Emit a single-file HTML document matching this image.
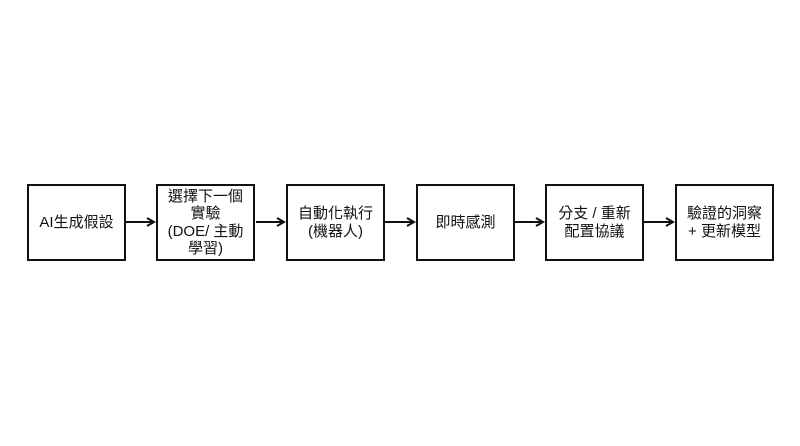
<!DOCTYPE html>
<html><head><meta charset="utf-8"><style>
body{margin:0;width:800px;height:446px;background:#fff;position:relative;overflow:hidden;font-family:"Liberation Sans","Noto Sans CJK TC",sans-serif;}
.b{position:absolute;top:184px;width:95px;height:73px;border:2px solid #111;display:flex;align-items:center;justify-content:center;text-align:center;font-size:15px;line-height:17.5px;color:#111;}
svg{position:absolute;left:0;top:0}
</style></head><body>
<div class="b" style="left:27px">AI生成假設</div>
<div class="b" style="left:156px">選擇下一個<br>實驗<br>(DOE/ 主動<br>學習)</div>
<div class="b" style="left:286px">自動化執行<br>(機器人)</div>
<div class="b" style="left:416px">即時感測</div>
<div class="b" style="left:545px">分支 / 重新<br>配置協議</div>
<div class="b" style="left:675px">驗證的洞察<br>+ 更新模型</div>
<svg width="800" height="446">
<g stroke="#111" stroke-width="2" fill="none">
<line x1="126" y1="222" x2="153" y2="222"/><polyline points="147,218 154,222 147,226"/>
<line x1="256" y1="222" x2="283" y2="222"/><polyline points="277,218 284,222 277,226"/>
<line x1="385" y1="222" x2="413" y2="222"/><polyline points="407,218 414,222 407,226"/>
<line x1="515" y1="222" x2="542" y2="222"/><polyline points="536,218 543,222 536,226"/>
<line x1="644" y1="222" x2="672" y2="222"/><polyline points="666,218 673,222 666,226"/>
</g></svg>
</body></html>
